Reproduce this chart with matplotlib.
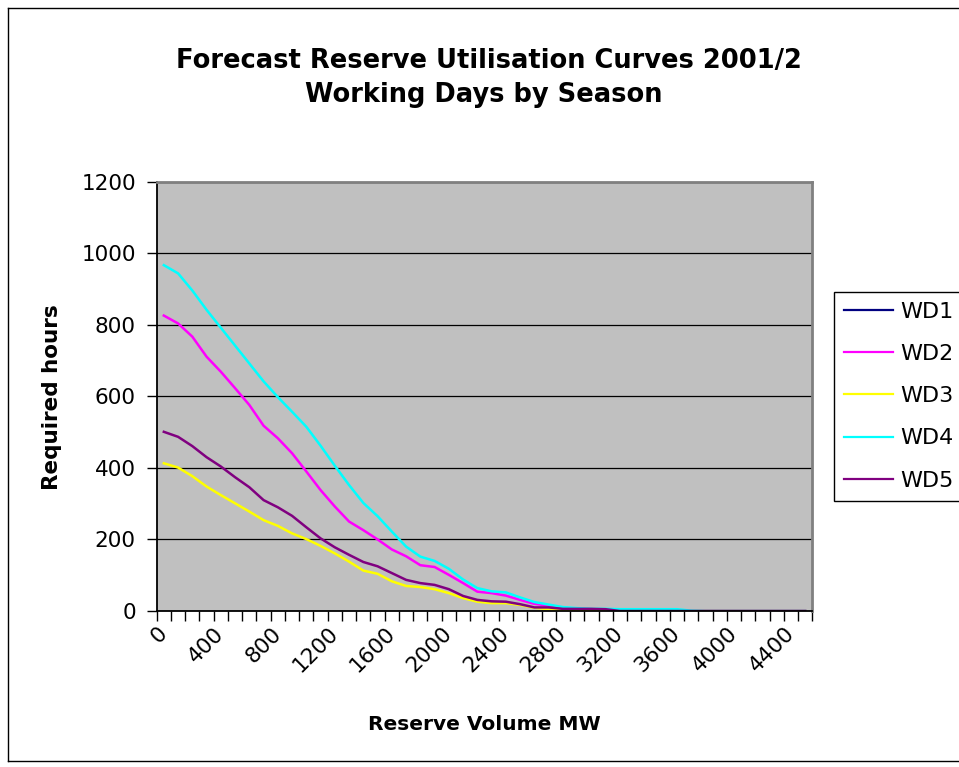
import numpy as np
import matplotlib
matplotlib.use("Agg")
import matplotlib.pyplot as plt
from matplotlib.lines import Line2D

# reserve volume categories (MW)
volumes = list(range(0, 4600, 100))

wd1 = [np.nan] * len(volumes)
wd2 = [826, 804, 767, 711, 669, 623, 576, 518, 483, 441, 390, 338, 292, 250, 226, 200,
       172, 153, 128, 123, 101, 78, 54, 50, 43, 31, 20, 15, 9, 6, 5, 4, 3, 2, 2, 2, 2,
       0, 0, 0, 0, 0, 0, 0, 0, 0]
wd3 = [413, 401, 377, 348, 324, 301, 278, 254, 238, 217, 201, 182, 161, 138, 113, 104,
       83, 70, 67, 61, 50, 36, 26, 22, 22, 17, 9, 5, 3, 1, 1, 1,
       0, 0, 0, 0, 0, 0, 0, 0, 0, 0, 0, 0, 0, 0]
wd4 = [967, 944, 896, 842, 792, 742, 692, 642, 598, 557, 515, 462, 406, 352, 302, 265,
       222, 180, 152, 140, 118, 88, 64, 55, 52, 38, 25, 18, 11, 8, 6, 6, 5, 5, 5, 5, 5, 1,
       0, 0, 0, 0, 0, 0, 0, 0]
wd5 = [501, 487, 461, 430, 404, 374, 346, 310, 290, 266, 234, 203, 178, 157, 137, 125,
       106, 87, 78, 73, 61, 42, 31, 27, 26, 19, 10, 10, 6, 6, 6, 5,
       0, 0, 0, 0, 0, 0, 0, 0, 0, 0, 0, 0, 0, 0]

series = [("WD1", wd1, "#000080"), ("WD2", wd2, "#FF00FF"), ("WD3", wd3, "#FFFF00"),
          ("WD4", wd4, "#00FFFF"), ("WD5", wd5, "#800080")]

W, H = 959, 767
fig = plt.figure(figsize=(W / 100, H / 100), dpi=100)
fig.patch.set_facecolor("white")

# plot area in pixels
left, right, top, bottom = 156.7, 812.3, 181.8, 611
ax = fig.add_axes([left / W, 1 - bottom / H, (right - left) / W, (bottom - top) / H])
ax.set_facecolor("#C0C0C0")

x = np.arange(len(volumes))
handles = []
for name, vals, col in series:
    ln, = ax.plot(x, vals, color=col, lw=1.8, label=name, solid_joinstyle="miter")
    handles.append(ln)

ax.set_xlim(-0.5, len(volumes) - 0.5)
ax.set_ylim(0, 1200)
ax.set_yticks(range(0, 1201, 200))
ax.yaxis.grid(True, color="#000000", lw=0.9)
ax.set_axisbelow(True)

ax.set_xticks(x[::4])
ax.set_xticklabels([str(v) for v in volumes[::4]], rotation=45, ha="right",
                   va="center", rotation_mode="anchor", fontsize=15.5)
ax.set_xticks(np.arange(-0.5, len(volumes), 1), minor=True)
ax.tick_params(axis="x", which="major", length=0, pad=14)
ax.tick_params(axis="x", which="minor", length=7, width=1, color="#000000", direction="out")
ax.tick_params(axis="y", length=7, width=1, direction="out", labelsize=15.5, pad=8)

for s in ["left", "bottom"]:
    ax.spines[s].set_color("#000000")
    ax.spines[s].set_linewidth(1.3)
for s in ["top", "right"]:
    ax.spines[s].set_color("#808080")
    ax.spines[s].set_linewidth(2)

fig.text(489 / W, 1 - 68 / H, "Forecast Reserve Utilisation Curves 2001/2",
         ha="center", va="baseline", fontsize=18.5, fontweight="bold")
fig.text(484 / W, 1 - 102 / H, "Working Days by Season",
         ha="center", va="baseline", fontsize=18.5, fontweight="bold")
fig.text(52 / W, 1 - 397 / H, "Required hours", rotation=90, ha="center",
         va="center", fontsize=15.5, fontweight="bold")
fig.text(484 / W, 1 - 725 / H, "Reserve Volume MW", ha="center", va="center",
         fontsize=14.5, fontweight="bold")

leg = fig.legend(handles=handles, loc="upper left",
                 bbox_to_anchor=(834.3 / W, 1 - 291.7 / H), borderaxespad=0,
                 fontsize=16, frameon=True, fancybox=False, framealpha=1,
                 edgecolor="#000000", handlelength=2.2, handletextpad=0.3,
                 labelspacing=1.0, borderpad=0.45)
leg.get_frame().set_linewidth(1)
for lh in leg.get_lines():
    lh.set_linewidth(1.6)

# outer chart border (extends off the right edge)
fig.add_artist(Line2D([8 / W, 8 / W], [1 - 761 / H, 1 - 8 / H], color="black",
                      lw=1, transform=fig.transFigure))
fig.add_artist(Line2D([8 / W, 1.0], [1 - 8 / H, 1 - 8 / H], color="black",
                      lw=1, transform=fig.transFigure))
fig.add_artist(Line2D([8 / W, 1.0], [1 - 761 / H, 1 - 761 / H], color="black",
                      lw=1, transform=fig.transFigure))

fig.savefig("out.png", dpi=100)
